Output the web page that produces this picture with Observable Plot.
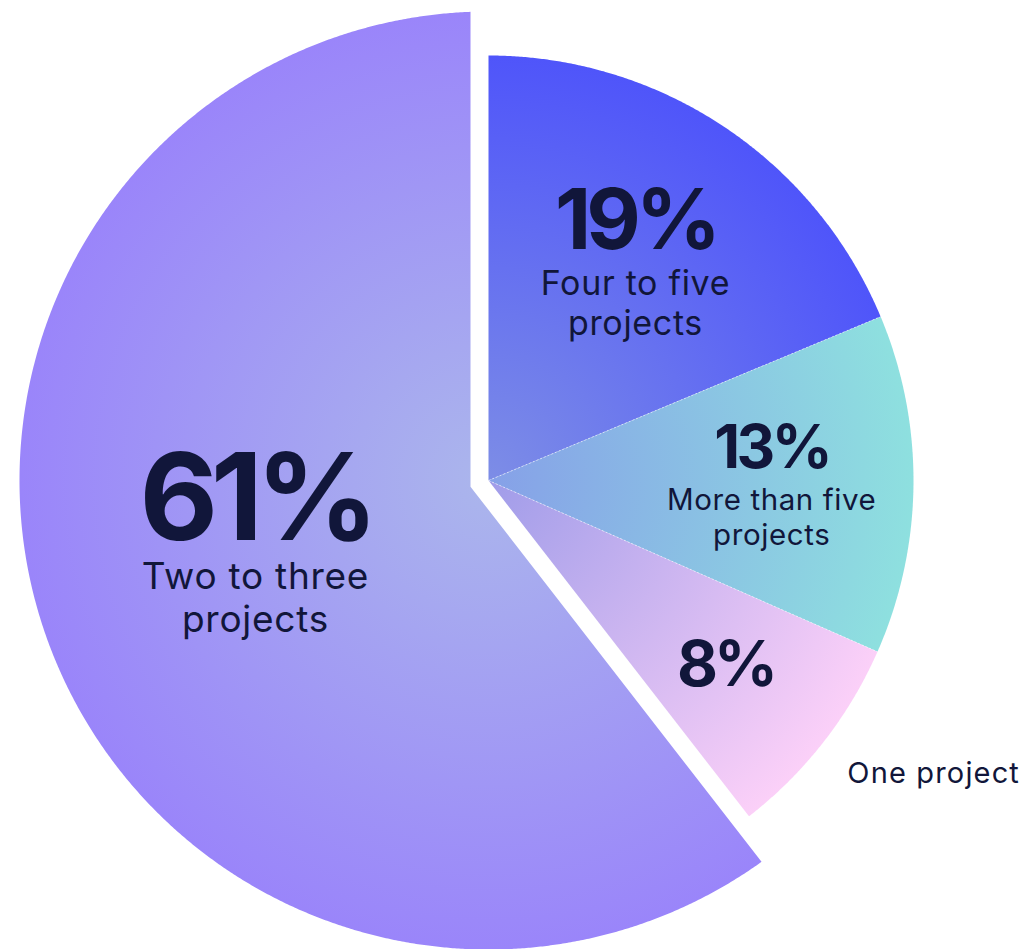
<!DOCTYPE html>
<html>
<head>
<meta charset="utf-8">
<script src="https://cdn.jsdelivr.net/npm/d3@7"></script>
<script src="https://cdn.jsdelivr.net/npm/@observablehq/plot@0.6"></script>
<style>
  html, body { margin: 0; padding: 0; background: #fff; }
  #chart svg { display: block; }
</style>
</head>
<body>
<div id="chart"></div>
<script>
// ---- data (clockwise from 12 o'clock) ----
const categories = ["Four to five projects", "More than five projects", "One project", "Two to three projects"];
const shares = [18.7, 12.9, 7.9, 60.5];
const pctLabels = ["19%", "13%", "8%", "61%"];
const innerNames = ["Four to five\nprojects", "More than five\nprojects", "", "Two to three\nprojects"];
const outerNames = ["", "", "One project", ""];

// ---- layout / style ----
const W = 1033, H = 949;
const CX = 488, CY = 480;
const radius = [425, 425, 425, 469];
const gap = [0, 0, 0, 18];
const pctSize = [84, 60, 63, 121];
const nameSize = [34, 29.5, 0, 37];
const outerSize = 29;
const labelRadius = [0.646, 0.667, 0.739, 0.513];
const labelShiftDeg = [-1.3, -3.1, 3.0, 4.5];
const outerRadius = 1.105, outerShiftDeg = 2.2;
const gradInner = ["#7d8de6", "#86a0e8", "#a09ce9", "#abb6ec"];
const gradOuter = ["#4f55fa", "#8ee0df", "#fbd0f8", "#9a85fa"];
const ink = "#11163a";

const arcs = d3.pie().sort(null).value(d => d)(shares);
const pt = (a, r) => [CX + r * Math.sin(a), CY - r * Math.cos(a)];
const rad = Math.PI / 180;

// slice polygons
const slicePoints = arcs.map((a, i) => {
  const R = radius[i], g = gap[i];
  const h = (a.endAngle - a.startAngle) / 2, m = (a.startAngle + a.endAngle) / 2;
  const d = g > 0 ? g / Math.sin(h) : 0;
  const del = Math.asin(g / R);
  const a0 = a.startAngle + del, a1 = a.endAngle - del;
  const pts = [pt(m, d)];
  const n = Math.ceil((a1 - a0) / (0.25 * rad));
  for (let k = 0; k <= n; ++k) pts.push(pt(a0 + (a1 - a0) * k / n, R));
  return pts.map(([x, y]) => ({x, y, i}));
});

// separators between the adjoining small slices
const seps = arcs.slice(0, 2).map((a, i) => {
  const [x2, y2] = pt(a.endAngle, radius[i]);
  return {x1: CX, y1: CY, x2, y2};
});

// labels
const labels = arcs.map((a, i) => {
  const m = (a.startAngle + a.endAngle) / 2 + labelShiftDeg[i] * rad;
  const [x, y] = pt(m, labelRadius[i] * radius[i]);
  return {x, y, pct: pctLabels[i], name: innerNames[i], ps: pctSize[i], ns: nameSize[i], cat: categories[i]};
});
const outer = arcs.map((a, i) => {
  const m = (a.startAngle + a.endAngle) / 2 + outerShiftDeg * rad;
  const [x, y] = pt(m, outerRadius * radius[i]);
  return {x, y, name: outerNames[i]};
}).filter(d => d.name);

const plot = Plot.plot({
  width: W, height: H, margin: 0,
  x: {domain: [0, W], range: [0, W], axis: null},
  y: {domain: [0, H], range: [0, H], axis: null},
  style: {fontFamily: "Inter, 'Noto Sans', sans-serif", background: "#fff", color: ink},
  marks: [
    ...slicePoints.map((pts, i) => Plot.line(pts, {
      x: "x", y: "y", curve: "linear-closed", fill: `url(#grad${i})`, stroke: "none"
    })),
    Plot.link(seps, {x1: "x1", y1: "y1", x2: "x2", y2: "y2", stroke: "#ffffff", strokeOpacity: 0.55, strokeWidth: 1, strokeDasharray: "2 2"}),
    Plot.text(labels, {x: "x", y: "y", text: "pct", fontSize: d => d.ps, fontWeight: 700, lineAnchor: "bottom", textAnchor: "middle", fill: ink}),
    Plot.text(labels.filter(d => d.name), {x: "x", y: "y", text: "name", fontSize: d => d.ns, lineAnchor: "top", textAnchor: "middle", dy: 18, lineHeight: 1.17, fill: ink}),
    Plot.text(outer, {x: "x", y: "y", text: "name", fontSize: outerSize, lineAnchor: "bottom", textAnchor: "start", fill: ink})
  ]
});

// gradients positioned through the plot's scales
const sx = plot.scale("x"), sy = plot.scale("y");
const svg = d3.select(plot);
const defs = svg.insert("defs", ":first-child");
arcs.forEach((a, i) => {
  const g = defs.append("radialGradient").attr("id", `grad${i}`).attr("gradientUnits", "userSpaceOnUse")
    .attr("cx", sx.apply(CX)).attr("cy", sy.apply(CY)).attr("r", sx.apply(CX + radius[i]) - sx.apply(CX));
  g.append("stop").attr("offset", 0).attr("stop-color", gradInner[i]);
  g.append("stop").attr("offset", 1).attr("stop-color", gradOuter[i]);
});

// letter spacing per text element (percentages tighter, names slightly wider)
const textGroups = svg.selectAll('g[aria-label="text"]').nodes();
const spacing = ["-0.06em", "0.02em", "0.04em"];
textGroups.forEach((g, k) => {
  d3.select(g).selectAll("text").attr("letter-spacing", spacing[k] || "0");
});

document.getElementById("chart").appendChild(plot);
</script>
</body>
</html>
